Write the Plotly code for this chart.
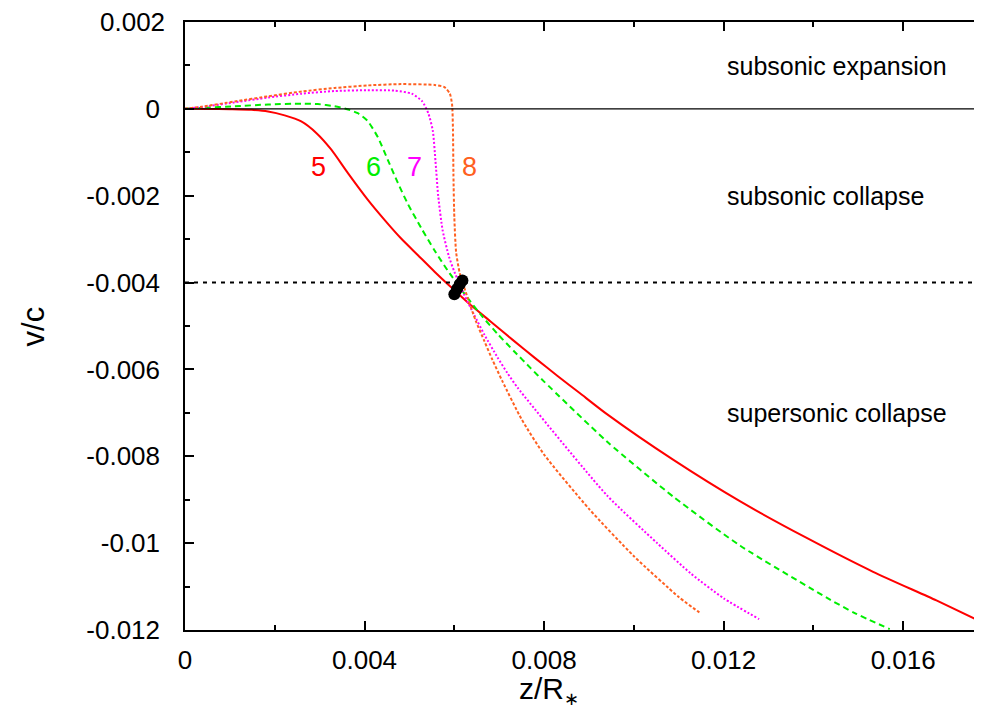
import plotly.graph_objects as go

# ---- data ----
x5 = [0, 0.0005, 0.001, 0.00148, 0.00185, 0.00222, 0.00259, 0.00293, 0.00326, 0.00363, 0.00407,
      0.00444, 0.00481, 0.00519, 0.00556, 0.00593, 0.0063, 0.0068, 0.0073, 0.0078, 0.0083,
      0.0088, 0.0094, 0.01089, 0.01237, 0.01385, 0.01533, 0.01674, 0.0179]
y5 = [0, -0.000003, -0.00001, -0.000023, -0.00006, -0.00015, -0.00029, -0.00056, -0.00094, -0.00148, -0.00209,
      -0.00255, -0.00298, -0.00337, -0.00375, -0.00411, -0.00446, -0.00489, -0.00532, -0.00574, -0.00615,
      -0.00655, -0.00703, -0.00809, -0.00904, -0.00988, -0.01066, -0.01132, -0.01189]

x6 = [0, 0.00037, 0.00111, 0.00185, 0.0026, 0.00296, 0.00333, 0.00356, 0.00385, 0.00407, 0.0043,
      0.00452, 0.00474, 0.00496, 0.00526, 0.00556, 0.00585, 0.0063, 0.00659, 0.00696, 0.00733,
      0.0077, 0.008, 0.0094, 0.01089, 0.01237, 0.01437, 0.01492, 0.0157]
y6 = [0, 0.00002, 0.00006, 0.0001, 0.00012, 0.00011, 0.00006, 0.00001, -0.0001, -0.00028, -0.00066,
      -0.00118, -0.0017, -0.00218, -0.00274, -0.00326, -0.00372, -0.00436, -0.00474, -0.00518, -0.00558,
      -0.00597, -0.00628, -0.00766, -0.00894, -0.01006, -0.0113, -0.01161, -0.01198]

x7 = [0, 0.00037, 0.00111, 0.00185, 0.0026, 0.00333, 0.00407, 0.00467, 0.00505, 0.00528, 0.00542,
      0.00552, 0.00558, 0.00564, 0.00574, 0.00588, 0.006, 0.00622, 0.00644, 0.00667, 0.00696,
      0.00718, 0.00741, 0.0094, 0.01052, 0.01127, 0.012, 0.01279]
y7 = [0, 0.00004, 0.00015, 0.00026, 0.00035, 0.00041, 0.00043, 0.00042, 0.00035, 0.00018, -0.0001,
      -0.0005, -0.0012, -0.002, -0.0028, -0.0034, -0.00375, -0.00428, -0.00474, -0.0052, -0.00572,
      -0.00608, -0.00642, -0.0089, -0.01, -0.0107, -0.01127, -0.01175]

x8 = [0, 0.00037, 0.00111, 0.00185, 0.0026, 0.00333, 0.00407, 0.00481, 0.00556, 0.00578, 0.0059,
      0.00595, 0.00597, 0.00598, 0.006, 0.00604, 0.00612, 0.0063, 0.00648, 0.00667, 0.00685,
      0.00707, 0.0075, 0.008, 0.009, 0.01, 0.011, 0.01141, 0.01147]
y8 = [0, 0.00005, 0.00017, 0.00029, 0.0004, 0.00048, 0.00054, 0.00057, 0.00055, 0.0005, 0.00035,
      0.0001, -0.0005, -0.0015, -0.0025, -0.0033, -0.00378, -0.00436, -0.00489, -0.00535, -0.00578,
      -0.00627, -0.00715, -0.00796, -0.00921, -0.0103, -0.01124, -0.01156, -0.0116]

xs = [0.0060, 0.00606, 0.00612, 0.00618]
ys = [-0.00427, -0.00415, -0.00404, -0.00395]

curve_labels = ["5", "6", "7", "8"]
label_x = [0.00298, 0.00419, 0.00511, 0.00633]
label_y = -0.00133
colors = ["#ff0000", "#00ee00", "#ff00ff", "#ff6020"]

region_text = ["subsonic expansion", "subsonic collapse", "supersonic collapse"]
region_y = [0.00098, -0.00201, -0.0070]
region_x = 0.01204

xticks = [0, 0.004, 0.008, 0.012, 0.016]
xticktext = ["0", "0.004", "0.008", "0.012", "0.016"]
yticks = [0, -0.002, -0.004, -0.006, -0.008, -0.01, -0.012]
yticktext = ["0", "-0.002", "-0.004", "-0.006", "-0.008", "-0.01", "-0.012"]
ytop_label = "0.002"

FONT = "Liberation Sans, Arial, sans-serif"
SM = 0.6

fig = go.Figure()

# reference lines
fig.add_hline(y=0, line=dict(color="black", width=1.2))
fig.add_hline(y=-0.004, line=dict(color="black", width=2, dash="4px,5px"))

fig.add_trace(go.Scatter(x=x5, y=y5, mode="lines",
                         line=dict(color=colors[0], width=2, shape="spline", smoothing=SM)))
fig.add_trace(go.Scatter(x=x6, y=y6, mode="lines",
                         line=dict(color=colors[1], width=2, dash="6px,4px", shape="spline", smoothing=SM)))
fig.add_trace(go.Scatter(x=x7, y=y7, mode="lines",
                         line=dict(color=colors[2], width=2, dash="2px,2px", shape="spline", smoothing=SM)))
fig.add_trace(go.Scatter(x=x8, y=y8, mode="lines",
                         line=dict(color=colors[3], width=2, dash="3px,2px", shape="spline", smoothing=SM)))
fig.add_trace(go.Scatter(x=xs, y=ys, mode="lines+markers",
                         line=dict(color="black", width=10),
                         marker=dict(color="black", size=12)))

for t, lx, c in zip(curve_labels, label_x, colors):
    fig.add_annotation(x=lx, y=label_y, text=t, showarrow=False,
                       font=dict(family=FONT, size=27, color=c), xanchor="center", yanchor="middle")

for t, ry in zip(region_text, region_y):
    fig.add_annotation(x=region_x, y=ry, text=t, showarrow=False,
                       font=dict(family=FONT, size=25, color="black"), xanchor="left", yanchor="middle")

# top y tick label (at the edge of the frame)
fig.add_annotation(xref="paper", yref="paper", x=0, y=1, xshift=-18, text=ytop_label, showarrow=False,
                   font=dict(family=FONT, size=26, color="black"), xanchor="right", yanchor="middle")

# axis titles
fig.add_annotation(x=0.0081, xref="x", yref="paper", y=-0.099,
                   text="z/R<sub><span style='font-size:18px'>∗</span></sub>",
                   showarrow=False,
                   font=dict(family=FONT, size=30, color="black"), xanchor="center", yanchor="middle")
fig.add_annotation(xref="paper", yref="paper", x=-0.189, y=0.5, text="v/c", showarrow=False, textangle=-90,
                   font=dict(family=FONT, size=31, color="black"), xanchor="center", yanchor="middle")

fig.update_layout(
    width=982, height=711,
    margin=dict(l=177, r=1, t=14, b=89),
    paper_bgcolor="white", plot_bgcolor="white",
    showlegend=False,
    font=dict(family=FONT, size=26, color="black"),
)
fig.update_xaxes(range=[-0.0000001, 0.017867], tickvals=xticks, ticktext=xticktext,
                 showline=True, linecolor="black", linewidth=1.5, mirror="ticks",
                 ticks="inside", ticklen=9, tickwidth=1.5, tickcolor="black",
                 minor=dict(dtick=0.002, ticks="inside", ticklen=5, tickwidth=1.5, tickcolor="black"),
                 showgrid=False, zeroline=False, ticklabelstandoff=6,
                 tickfont=dict(family=FONT, size=26))
fig.update_yaxes(range=[-0.0120001, 0.002], tickvals=yticks, ticktext=yticktext,
                 showline=True, linecolor="black", linewidth=1.5, mirror="ticks",
                 ticks="inside", ticklen=9, tickwidth=1.5, tickcolor="black",
                 minor=dict(dtick=0.001, tick0=0, ticks="inside", ticklen=5, tickwidth=1.5, tickcolor="black"),
                 showgrid=False, zeroline=False, ticklabelstandoff=18,
                 tickfont=dict(family=FONT, size=26))

fig.write_html("out.html")
